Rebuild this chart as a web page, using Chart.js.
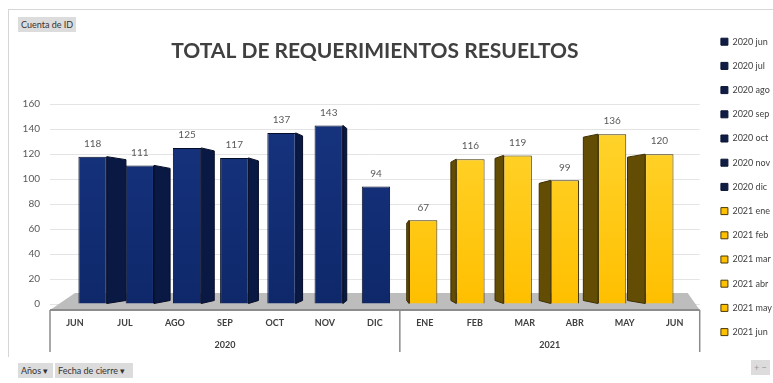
<!DOCTYPE html>
<html><head><meta charset="utf-8">
<script src="https://cdn.jsdelivr.net/npm/chart.js@4.4.1/dist/chart.umd.min.js"></script>
<style>
html,body{margin:0;padding:0;background:#fff;}
#wrap{position:relative;width:773px;height:383px;overflow:hidden;font-family:Lato,'Open Sans',sans-serif;}
canvas{position:absolute;left:0;top:0;}
.line{position:absolute;background:#d6d6d6;}
.btn{position:absolute;background:#dcdcdc;color:#333;font-size:9px;line-height:15px;height:15px;padding:0 3px;white-space:nowrap;box-sizing:border-box;}
</style></head>
<body><div id="wrap">
<div class="line" style="left:8px;top:9px;width:765px;height:1px;"></div>
<div class="line" style="left:8px;top:9px;width:1px;height:348px;"></div>
<canvas id="c" width="773" height="383"></canvas>
<div class="btn" style="left:18px;top:17px;width:58px;">Cuenta de ID</div>
<div class="btn" style="left:18px;top:363px;width:35px;">Años ▾</div>
<div class="btn" style="left:55px;top:363px;width:78px;">Fecha de cierre ▾</div>
<div class="btn" style="left:751px;top:360px;color:#999;">+ −</div>
</div>
<script>
const months = ['JUN','JUL','AGO','SEP','OCT','NOV','DIC','ENE','FEB','MAR','ABR','MAY','JUN'];
const years = ['2020','2020','2020','2020','2020','2020','2020','2021','2021','2021','2021','2021','2021'];
const legendLabels = ['2020 jun','2020 jul','2020 ago','2020 sep','2020 oct','2020 nov','2020 dic','2021 ene','2021 feb','2021 mar','2021 abr','2021 may','2021 jun'];
const values = [118,111,125,117,137,143,94,67,116,119,99,136,120];
const yTicks = [0,20,40,60,80,100,120,140,160];

const styles = {
  '2020': {top:'#173480', bottom:'#0e286a', side:'#0a1944', edge:'#050d26', legend:'#0f1d45', legendEdge:'#0a1433'},
  '2021': {top:'#ffd632', bottom:'#ffbf00', side:'#634c04', edge:'#3d2f00', legend:'#ffc000', legendEdge:'#4a3a00'}
};
const FONT = 'Lato';

function barFill(ctx){
  const st = styles[years[ctx.dataIndex]];
  const area = ctx.chart.chartArea;
  if(!area) return st.bottom;
  const g = ctx.chart.ctx.createLinearGradient(0, area.top, 0, area.bottom);
  g.addColorStop(0, st.top); g.addColorStop(1, st.bottom);
  return g;
}

const floorPlugin = {
  id:'floor',
  beforeDatasetsDraw(chart){
    const {ctx, chartArea:a} = chart;
    const y0 = a.bottom + 6;
    ctx.save();
    ctx.fillStyle = '#bdbdbd';
    ctx.beginPath();
    ctx.moveTo(a.left, y0); ctx.lineTo(a.right, y0);
    ctx.lineTo(a.right - 12, y0 - 17); ctx.lineTo(a.left + 25, y0 - 17);
    ctx.closePath(); ctx.fill();
    ctx.restore();
  }
};

const sidePlugin = {
  id:'sides',
  afterDatasetsDraw(chart){
    const {ctx, chartArea:a} = chart;
    const vx = a.left + (a.right - a.left) * 0.52;
    const meta = chart.getDatasetMeta(0);
    ctx.save();
    meta.data.forEach((bar, i) => {
      const p = bar.getProps(['x','y','base','width'], true);
      const st = styles[years[i]];
      const s = p.x < vx ? 1 : -1;
      const d = Math.abs(p.x - vx) * 0.065;
      const xf = p.x + s * p.width / 2, xb = xf + s * d;
      if (d > 0.8) {
        ctx.beginPath();
        ctx.moveTo(xf, p.y); ctx.lineTo(xb, p.y + 3);
        ctx.lineTo(xb, p.base - 3); ctx.lineTo(xf, p.base);
        ctx.closePath();
        ctx.fillStyle = st.side; ctx.fill();
        ctx.strokeStyle = st.edge; ctx.lineWidth = 1; ctx.stroke();
      }
      ctx.fillStyle = '#595959';
      ctx.font = '10px ' + FONT;
      ctx.textAlign = 'center'; ctx.textBaseline = 'middle';
      ctx.fillText(String(values[i]), p.x, p.y - 13);
    });
    ctx.restore();
  }
};

const groupAxisPlugin = {
  id:'groupAxis',
  afterDraw(chart){
    const {ctx, chartArea:a} = chart;
    const sc = chart.scales.xm;
    const y0 = a.bottom + 6;
    const band = (a.right - a.left) / months.length;
    ctx.save();
    ctx.strokeStyle = '#8c8c8c'; ctx.lineWidth = 2;
    ctx.beginPath(); ctx.moveTo(a.left, y0); ctx.lineTo(a.right, y0); ctx.stroke();
    let start = 0;
    const bounds = [];
    for (let i = 1; i <= years.length; i++) {
      if (i === years.length || years[i] !== years[start]) {
        bounds.push([start, i - 1]);
        start = i;
      }
    }
    ctx.lineWidth = 1.5;
    ctx.fillStyle = '#404040';
    ctx.font = 'bold 9px ' + FONT;
    ctx.textAlign = 'center'; ctx.textBaseline = 'middle';
    bounds.forEach(([s, e], k) => {
      const xl = sc.getPixelForValue(s) - band / 2;
      const xr = sc.getPixelForValue(e) + band / 2;
      ctx.beginPath();
      if (k === 0) { ctx.moveTo(xl, y0); ctx.lineTo(xl, y0 + 42); }
      ctx.moveTo(xr, y0); ctx.lineTo(xr, y0 + 42);
      ctx.stroke();
      ctx.fillText(years[s], (xl + xr) / 2, y0 + 35);
    });
    ctx.restore();
  }
};

new Chart(document.getElementById('c'), {
  type:'bar',
  data:{
    datasets:[{
      data: values.map((v, i) => ({x:i, y:v})),
      backgroundColor: barFill,
      borderColor: ctx => styles[years[ctx.dataIndex]].edge,
      borderWidth: 1,
      barPercentage: 0.6,
      categoryPercentage: 1,
      xAxisID:'x', yAxisID:'y'
    }]
  },
  options:{
    responsive:false,
    animation:false,
    layout:{padding:{top:22, left:8, right:-9, bottom:0}},
    scales:{
      x:{type:'linear', display:false, min:-0.9016, max:12.855, offset:false},
      xm:{type:'category', labels:months, position:'bottom', offset:true,
        grid:{display:false, drawTicks:false}, border:{display:false},
        ticks:{padding:14, color:'#404040', font:{family:FONT, size:9, weight:'bold'}, maxRotation:0, autoSkip:false},
        afterFit(s){ s.height = 79; }},
      y:{min:0, max:160,
        afterBuildTicks(s){ s.ticks = yTicks.map(v => ({value:v})); },
        grid:{color:'#e4e4e4', drawTicks:false}, border:{display:false},
        ticks:{padding:10, color:'#595959', font:{family:FONT, size:10}},
        afterFit(s){ s.width = 42; }},
      yr:{position:'right', min:0, max:160, grid:{display:false, drawTicks:false}, border:{display:false},
        ticks:{display:false}, afterFit(s){ s.width = 6; }}
    },
    plugins:{
      title:{display:true, text:'TOTAL DE REQUERIMIENTOS RESUELTOS', fullSize:false, color:'#404040',
        font:{family:FONT, size:21, weight:'bold'}, padding:{top:17, bottom:40}},
      legend:{position:'right', align:'start', onClick:null,
        labels:{boxWidth:7, boxHeight:7, padding:15.2, color:'#404040', font:{family:FONT, size:9},
          generateLabels: () => legendLabels.map((t, i) => ({
            text:t, fillStyle:styles[years[i]].legend, strokeStyle:styles[years[i]].legendEdge,
            lineWidth:1, hidden:false, index:i, datasetIndex:0, fontColor:'#404040'}))}},
      tooltip:{enabled:false}
    }
  },
  plugins:[floorPlugin, sidePlugin, groupAxisPlugin]
});
</script>
</body></html>
